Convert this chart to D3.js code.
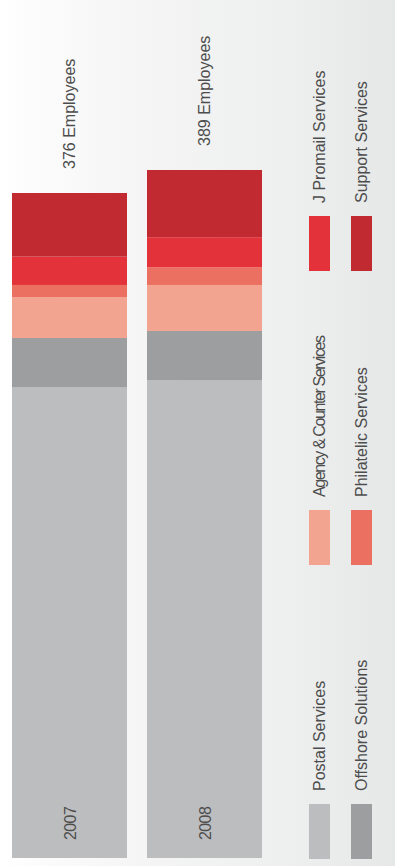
<!DOCTYPE html>
<html>
<head>
<meta charset="utf-8">
<script src="https://cdn.jsdelivr.net/npm/d3@7/dist/d3.min.js"></script>
<style>
  html, body { margin: 0; padding: 0; background: #ffffff; }
  svg { display: block; }
  text { font-family: "Liberation Sans", Arial, sans-serif; font-weight: 400; fill: #4d4d4d; }
</style>
</head>
<body>
<svg id="chart" width="395" height="866"></svg>
<script>
// Workforce by division, stacked bottom to top
const years = ["2007", "2008"];
const seriesNames = [
  "Postal Services",
  "Offshore Solutions",
  "Agency & Counter Services",
  "Philatelic Services",
  "J Promail Services",
  "Support Services"
];
const postal     = [266, 270];
const offshore   = [28, 28];
const agency     = [23, 26];
const philatelic = [7, 10];
const jPromail   = [16, 17];
const support    = [36, 38];
const seriesColors = ["#bcbdbf", "#9d9ea0", "#f3a491", "#ec7061", "#e4323a", "#c22a31"];

const W = 395, H = 866;
const svg = d3.select("#chart");

// soft horizontal background wash
const defs = svg.append("defs");
const grad = defs.append("linearGradient").attr("id", "bg").attr("x1", "0").attr("x2", "1").attr("y1", "0").attr("y2", "0");
[[0, "#ffffff"], [0.12, "#fbfbfb"], [0.4, "#f4f4f4"], [0.72, "#eeefef"], [1, "#e6e7e7"]]
  .forEach(([o, c]) => grad.append("stop").attr("offset", o).attr("stop-color", c));
svg.append("rect").attr("width", W).attr("height", H).attr("fill", "url(#bg)");

const values = [postal, offshore, agency, philatelic, jPromail, support];
const table = years.map((yr, i) => {
  const row = { year: yr };
  seriesNames.forEach((s, k) => { row[s] = values[k][i]; });
  return row;
});
const stacked = d3.stack().keys(seriesNames)(table);
const totals = table.map(r => d3.sum(seriesNames, s => r[s]));

const x = d3.scaleBand().domain(years).range([12, 262]).paddingInner(20 / 135).paddingOuter(0);
const y = d3.scaleLinear().domain([0, d3.max(totals)]).range([858, 170]);
const color = d3.scaleOrdinal().domain(seriesNames).range(seriesColors);

// bars
svg.append("g").selectAll("g")
  .data(stacked)
  .join("g")
  .attr("fill", d => color(d.key))
  .selectAll("rect")
  .data(d => d)
  .join("rect")
  .attr("x", d => x(d.data.year))
  .attr("width", x.bandwidth())
  .attr("y", d => y(d[1]))
  .attr("height", d => y(d[0]) - y(d[1]));

// totals above each bar
svg.append("g").selectAll("text")
  .data(years)
  .join("text")
  .attr("transform", (yr, i) => `translate(${x(yr) + x.bandwidth() / 2 + 5.5},${y(totals[i]) - 24}) rotate(-90)`)
  .attr("font-size", 16)
  .text((yr, i) => `${totals[i]} Employees`);

// year inside base of each bar
svg.append("g").selectAll("text")
  .data(years)
  .join("text")
  .attr("transform", yr => `translate(${x(yr) + x.bandwidth() / 2 + 6.5},${y(0) - 18}) rotate(-90)`)
  .attr("font-size", 16)
  .attr("letter-spacing", -0.6)
  .attr("fill", "#555555")
  .text(yr => yr);

// legend: two columns, three rows, reading from the top
const legendOrder = [4, 5, 2, 3, 0, 1];
const lx = d3.scaleOrdinal().domain([0, 1]).range([309, 351]);
const ly = d3.scaleLinear().domain([0, 2]).range([216, 804]);
const swatchW = 21, swatchH = 55;

const items = svg.append("g").selectAll("g")
  .data(legendOrder)
  .join("g")
  .attr("transform", (k, i) => `translate(${lx(i % 2)},${ly(Math.floor(i / 2))})`);

items.append("rect")
  .attr("width", swatchW)
  .attr("height", swatchH)
  .attr("fill", k => seriesColors[k]);

items.append("text")
  .attr("transform", `translate(${swatchW / 2 + 5.5},-13) rotate(-90)`)
  .attr("font-size", 16)
  .attr("letter-spacing", k => seriesNames[k].startsWith("Agency") ? -1.4 : 0)
  .text(k => seriesNames[k]);
</script>
</body>
</html>
